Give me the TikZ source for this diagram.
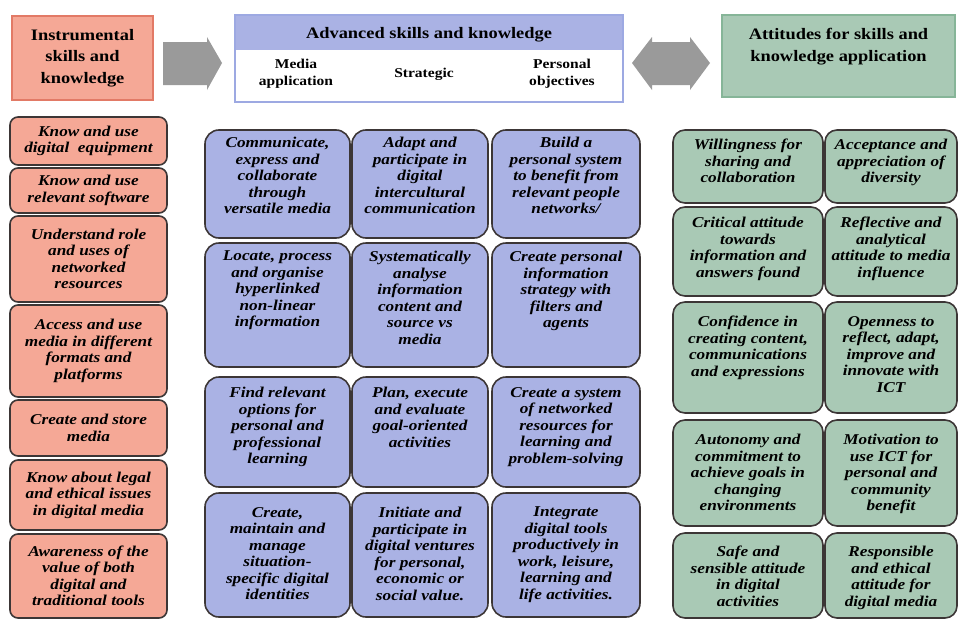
\documentclass[tikz,border=0pt]{standalone}
\usepackage{fontspec}
\setmainfont{Liberation Serif}[FakeStretch=1.15]

\definecolor{salmon}{HTML}{F5A896}
\definecolor{salmonedge}{HTML}{E27A66}
\definecolor{lavender}{HTML}{AAB2E4}
\definecolor{lavenderedge}{HTML}{9DA9E2}
\definecolor{sage}{HTML}{A9C9B5}
\definecolor{sageedge}{HTML}{86B598}
\definecolor{boxedge}{HTML}{3C3636}
\definecolor{arrowgray}{HTML}{9A9A9A}

\tikzset{
	cellbox/.style={draw=boxedge, line width=1.6pt, inner sep=0pt},
	redbox/.style={cellbox, fill=salmon, rounded corners=8pt, minimum width=157pt, align=center, font=\bfseries\itshape\fontsize{15}{16.5}\selectfont},
	bluebox/.style={cellbox, fill=lavender, rounded corners=14pt},
	greenbox/.style={cellbox, fill=sage, rounded corners=12pt},
	celltext/.style={anchor=north, align=center, inner sep=0pt, font=\bfseries\itshape\fontsize{15}{16.5}\selectfont},
	headbox/.style={line width=2.2pt, inner sep=0pt, align=center, font=\bfseries\fontsize{16}{21.5}\selectfont},
	headtext/.style={align=center, inner sep=0pt, font=\bfseries\fontsize{16}{22}\selectfont},
	subtext/.style={align=center, inner sep=0pt, font=\bfseries\fontsize{13.5}{17}\selectfont}
}

\begin{document}
\begin{tikzpicture}[x=1pt, y=-1pt]
	\useasboundingbox (0,0) rectangle (958,621);
	
	% headers
	\node[headbox, fill=salmon, draw=salmonedge, minimum width=141pt, minimum height=84pt] (hleft) at (82.5,58) {Instrumental\\skills and\\knowledge};
	
	\fill[arrowgray] (163,42) -- (207,42) -- (207,37) -- (222,63) -- (207,90) -- (207,85) -- (163,85) -- cycle;
	
	\fill[lavender] (235,15) rectangle (623,50);
	\node[headbox, draw=lavenderedge, minimum width=388pt, minimum height=87pt] (hmid) at (429,58.5) {};
	\node[headtext] (hmidtitle) at (429,35) {Advanced skills and knowledge};
	\node[subtext] (hmedia) at (296,74) {Media\\application};
	\node[subtext] (hstrat) at (424,74) {Strategic};
	\node[subtext] (hpers) at (562,74) {Personal\\objectives};
	
	\fill[arrowgray] (632,63) -- (652,37) -- (652,42) -- (690,42) -- (690,37) -- (710,63) -- (690,90) -- (690,85) -- (652,85) -- (652,90) -- cycle;
	
	\node[headbox, fill=sage, draw=sageedge, minimum width=233pt, minimum height=82pt] (hright) at (838.5,56) {};
	\node[headtext] (hrighttext) at (838.5,47) {Attitudes for skills and\\knowledge application};
	
	% instrumental column
	\node[redbox, minimum height=48pt] (l1) at (88.5,141) {Know and use\\digital\ \ equipment};
	\node[redbox, minimum height=45pt] (l2) at (88.5,190.5) {Know and use\\relevant software};
	\node[redbox, minimum height=86pt] (l3) at (88.5,259) {Understand role\\and uses of\\networked\\resources};
	\node[redbox, minimum height=92pt] (l4) at (88.5,351) {Access and use\\media in different\\formats and\\platforms};
	\node[redbox, minimum height=56pt] (l5) at (88.5,428) {Create and store\\media};
	\node[redbox, minimum height=70pt] (l6) at (88.5,495) {Know about legal\\and ethical issues\\in digital media};
	\node[redbox, minimum height=84pt] (l7) at (88.5,576) {Awareness of the\\value of both\\digital and\\traditional tools};
	
	% advanced skills grid
	\node[bluebox, minimum width=145pt, minimum height=108pt] (m11) at (277.5,184) {};
	\node[bluebox, minimum width=136pt, minimum height=108pt] (m12) at (420,184) {};
	\node[bluebox, minimum width=148pt, minimum height=108pt] (m13) at (566,184) {};
	\node[celltext] (mt11) at ([yshift=-7.7pt]m11.north) {Communicate,\\express and\\collaborate\\through\\versatile media};
	\node[celltext] (mt12) at ([yshift=-7.7pt]m12.north) {Adapt and\\participate in\\digital\\intercultural\\communication};
	\node[celltext] (mt13) at ([yshift=-7.7pt]m13.north) {Build a\\personal system\\to benefit from\\relevant people\\networks/};
	
	\node[bluebox, minimum width=145pt, minimum height=124pt] (m21) at (277.5,305) {};
	\node[bluebox, minimum width=136pt, minimum height=124pt] (m22) at (420,305) {};
	\node[bluebox, minimum width=148pt, minimum height=124pt] (m23) at (566,305) {};
	\node[celltext] (mt21) at ([yshift=-8.7pt]m21.north) {Locate, process\\and organise\\hyperlinked\\non-linear\\information};
	\node[celltext] (mt22) at ([yshift=-8.7pt]m22.north) {Systematically\\analyse\\information\\content and\\source vs\\media};
	\node[celltext] (mt23) at ([yshift=-8.7pt]m23.north) {Create personal\\information\\strategy with\\filters and\\agents};
	
	\node[bluebox, minimum width=145pt, minimum height=110pt] (m31) at (277.5,432) {};
	\node[bluebox, minimum width=136pt, minimum height=110pt] (m32) at (420,432) {};
	\node[bluebox, minimum width=148pt, minimum height=110pt] (m33) at (566,432) {};
	\node[celltext] (mt31) at ([yshift=-10.7pt]m31.north) {Find relevant\\options for\\personal and\\professional\\learning};
	\node[celltext] (mt32) at ([yshift=-10.7pt]m32.north) {Plan, execute\\and evaluate\\goal-oriented\\activities};
	\node[celltext] (mt33) at ([yshift=-10.7pt]m33.north) {Create a system\\of networked\\resources for\\learning and\\problem-solving};
	
	\node[bluebox, minimum width=145pt, minimum height=124pt] (m41) at (277.5,555) {};
	\node[bluebox, minimum width=136pt, minimum height=124pt] (m42) at (420,555) {};
	\node[bluebox, minimum width=148pt, minimum height=124pt] (m43) at (566,555) {};
	\node[celltext] (mt41) at ([yshift=-14.7pt]m41.north) {Create,\\maintain and\\manage\\situation-\\specific digital\\identities};
	\node[celltext] (mt42) at ([yshift=-14.7pt]m42.north) {Initiate and\\participate in\\digital ventures\\for personal,\\economic or\\social value.};
	\node[celltext] (mt43) at ([yshift=-14.7pt]m43.north) {Integrate\\digital tools\\productively in\\work, leisure,\\learning and\\life activities.};
	
	% attitudes grid
	\node[greenbox, minimum width=150pt, minimum height=73pt] (g11) at (748,166.5) {};
	\node[greenbox, minimum width=132pt, minimum height=73pt] (g12) at (891,166.5) {};
	\node[celltext] (gt11) at ([yshift=-9.7pt]g11.north) {Willingness for\\sharing and\\collaboration};
	\node[celltext] (gt12) at ([yshift=-9.7pt]g12.north) {Acceptance and\\appreciation of\\diversity};
	
	\node[greenbox, minimum width=150pt, minimum height=89pt] (g21) at (748,251.5) {};
	\node[greenbox, minimum width=132pt, minimum height=89pt] (g22) at (891,251.5) {};
	\node[celltext] (gt21) at ([yshift=-10.7pt]g21.north) {Critical attitude\\towards\\information and\\answers found};
	\node[celltext] (gt22) at ([yshift=-10.7pt]g22.north) {Reflective and\\analytical\\attitude to media\\influence};
	
	\node[greenbox, minimum width=150pt, minimum height=111pt] (g31) at (748,357.5) {};
	\node[greenbox, minimum width=132pt, minimum height=111pt] (g32) at (891,357.5) {};
	\node[celltext] (gt31) at ([yshift=-14.7pt]g31.north) {Confidence in\\creating content,\\communications\\and expressions};
	\node[celltext] (gt32) at ([yshift=-14.7pt]g32.north) {Openness to\\reflect, adapt,\\improve and\\innovate with\\ICT};
	
	\node[greenbox, minimum width=150pt, minimum height=106pt] (g41) at (748,473) {};
	\node[greenbox, minimum width=132pt, minimum height=106pt] (g42) at (891,473) {};
	\node[celltext] (gt41) at ([yshift=-14.7pt]g41.north) {Autonomy and\\commitment to\\achieve goals in\\changing\\environments};
	\node[celltext] (gt42) at ([yshift=-14.7pt]g42.north) {Motivation to\\use ICT for\\personal and\\community\\benefit};
	
	\node[greenbox, minimum width=150pt, minimum height=85pt] (g51) at (748,575.5) {};
	\node[greenbox, minimum width=132pt, minimum height=85pt] (g52) at (891,575.5) {};
	\node[celltext] (gt51) at ([yshift=-13.7pt]g51.north) {Safe and\\sensible attitude\\in digital\\activities};
	\node[celltext] (gt52) at ([yshift=-13.7pt]g52.north) {Responsible\\and ethical\\attitude for\\digital media};
	
\end{tikzpicture}
\end{document}
